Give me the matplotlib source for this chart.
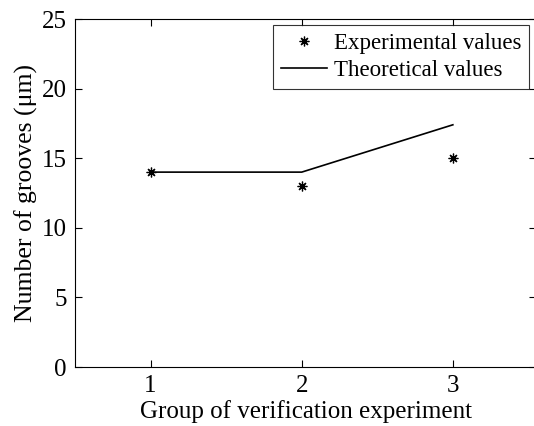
import matplotlib
matplotlib.use("Agg")
import matplotlib.pyplot as plt

groups = [1, 2, 3]
experimental = [14, 13, 15]
theoretical = [14, 14, 17.4]
yticks = [0, 5, 10, 15, 20, 25]

plt.rcParams['font.family'] = ['Liberation Serif', 'DejaVu Serif']
fig = plt.figure(figsize=(5.34, 4.26), dpi=100)
ax = fig.add_axes([75/534, 1-367/426, 461/534, 348/426])
ax.plot(groups, experimental, linestyle='none', marker=(8, 2, 0), color='black',
        markersize=7, markeredgewidth=0.9, label='Experimental values')
ax.plot(groups, theoretical, color='black', linewidth=1.2, label='Theoretical values')
ax.set_xlim(0.5, 3.55)
ax.set_ylim(0, 25)
ax.set_xticks(groups)
ax.set_yticks(yticks)
ax.spines['right'].set_visible(False)
ax.tick_params(direction='in', labelsize=18, length=5, top=True, right=True, pad=6)
ax.set_xlabel('Group of verification experiment', fontsize=18, labelpad=2)
ax.set_ylabel('Number of grooves (μm)', fontsize=18.5, labelpad=3)
leg = ax.legend(loc='upper right', fontsize=16.5, frameon=True, fancybox=False,
                edgecolor='black', borderaxespad=0.25, handlelength=2.0,
                handletextpad=0.3, borderpad=0.35, labelspacing=0.25,
                bbox_to_anchor=(0.998, 1.0))
leg.get_frame().set_linewidth(0.8)
fig.savefig('out.png', dpi=100)
